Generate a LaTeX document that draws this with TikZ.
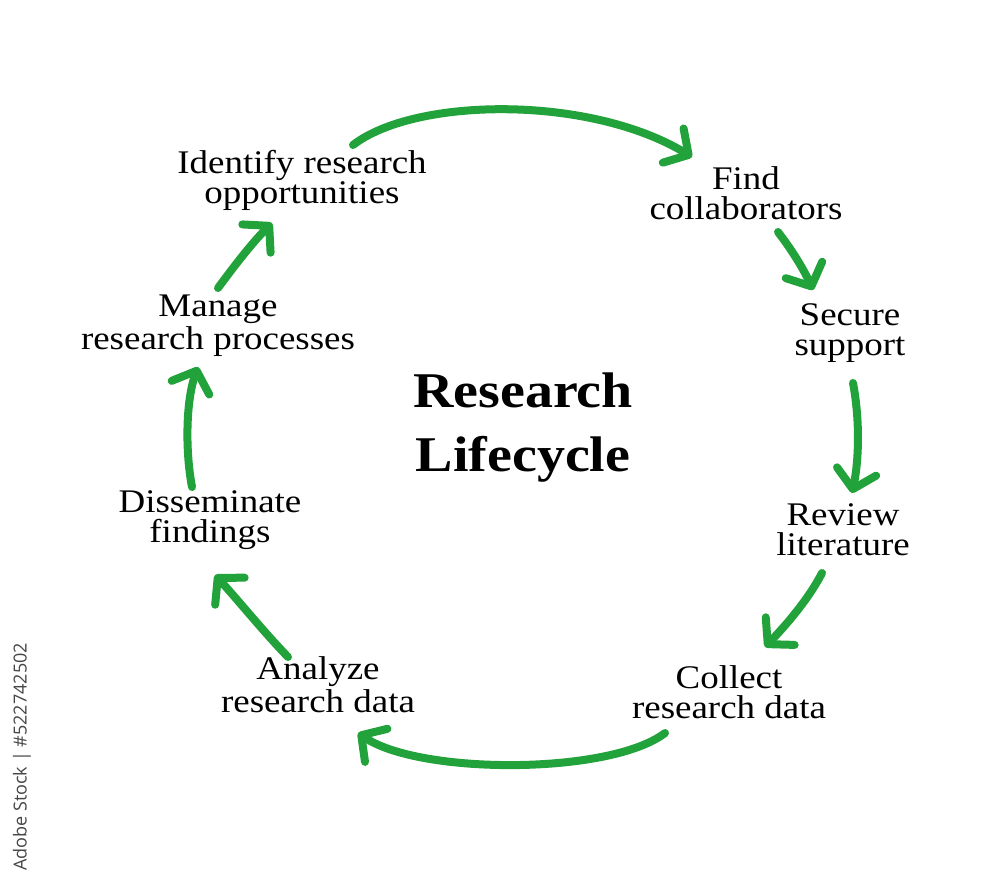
\documentclass[tikz,border=0pt]{standalone}
\usepackage{fontspec}
\setmainfont{Liberation Serif}[FakeStretch=1.12]
\newfontfamily\wmfont{Open Sans}
\usetikzlibrary{arrows.meta}
\definecolor{arrgreen}{RGB}{34,162,58}
\definecolor{wmgray}{RGB}{70,70,70}
\begin{document}
\begin{tikzpicture}[x=0.5pt,y=-0.5pt,
  lbl/.style={anchor=base, align=center, inner sep=0pt, font=\fontsize{16.5pt}{15pt}\selectfont},
  ttl/.style={anchor=base, align=center, inner sep=0pt, font=\bfseries\fontsize{25pt}{32pt}\selectfont},
  cyc/.style={draw=arrgreen, line width=4pt, line cap=round,
    -{Straight Barb[length=9pt,width=20pt,round]}}]
\useasboundingbox[fill=white] (0,0) rectangle (1000,884);

% labels (anchored at the baseline of the last line)
\node[lbl] (identify) at (302,203) {Identify research\\opportunities};
\node[lbl] (find) at (746,219) {Find\\collaborators};
\node[lbl] (secure) at (850,355) {Secure\\support};
\node[lbl] (review) at (843,555) {Review\\literature};
\node[lbl] (collect) at (729,718) {Collect\\research data};
\node[lbl] (analyze) at (318,712) {Analyze\\research data};
\node[lbl] (dissem) at (210,542) {Disseminate\\findings};
\node[lbl] (manage) at (218,349) {Manage\\research processes};
\node[ttl] (title) at (523,471) {Research\\Lifecycle};

% watermark side text
\node[rotate=90, text=wmgray, inner sep=0pt, font=\wmfont\fontsize{9pt}{10pt}\selectfont] (wm) at (22,757) {Adobe Stock | \#522742502};

% arrow end points
\coordinate (a1s) at (353,145); \coordinate (a1e) at (692,157);
\coordinate (a2s) at (778,232); \coordinate (a2e) at (813,290);
\coordinate (a3s) at (853,383); \coordinate (a3e) at (852,493);
\coordinate (a4s) at (822,573); \coordinate (a4e) at (765,647);
\coordinate (a5s) at (665,733); \coordinate (a5e) at (358,733);
\coordinate (a6s) at (288,657); \coordinate (a6e) at (215,575);
\coordinate (a7s) at (192,487); \coordinate (a7e) at (198,367);
\coordinate (a8s) at (218,288); \coordinate (a8e) at (272,223);

\draw[cyc] (a1s) .. controls (415,97) and (590,95) .. (a1e);
\draw[cyc] (a2s) .. controls (792,250) and (804,270) .. (a2e);
\draw[cyc] (a3s) .. controls (860,420) and (859,460) .. (a3e);
\draw[cyc] (a4s) .. controls (808,600) and (786,625) .. (a4e);
\draw[cyc] (a5s) .. controls (610,775) and (420,775) .. (a5e);
\draw[cyc] (a6s) .. controls (262,630) and (238,600) .. (a6e);
\draw[cyc] (a7s) .. controls (185,450) and (186,400) .. (a7e);
\draw[cyc] (a8s) .. controls (235,265) and (252,243) .. (a8e);
\end{tikzpicture}
\end{document}
